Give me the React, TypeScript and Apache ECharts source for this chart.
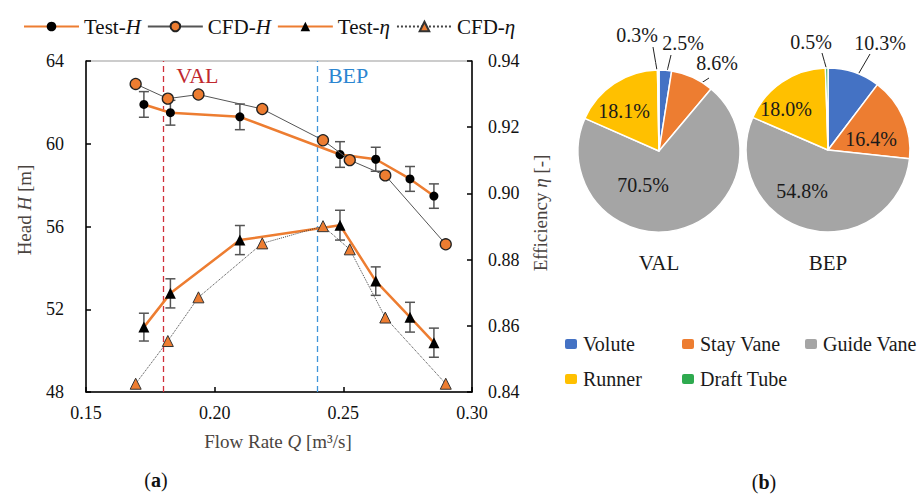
import React, { useEffect, useRef } from "react";
import * as echarts from "echarts";

// ---------- data ----------
const FLOW_TEST = [0.1725, 0.1828, 0.2098, 0.2487, 0.2626, 0.2759, 0.2852];
const HEAD_TEST = [61.9, 61.5, 61.3, 59.48, 59.25, 58.3, 57.47];
const HEAD_TEST_ERR = [0.62, 0.6, 0.62, 0.62, 0.58, 0.6, 0.59];
const EFF_TEST = [0.8596, 0.8698, 0.8859, 0.8904, 0.8735, 0.8626, 0.8549];
const EFF_TEST_ERR = [0.0042, 0.0044, 0.0044, 0.0045, 0.0043, 0.0045, 0.0044];

const FLOW_CFD = [0.1693, 0.1818, 0.1937, 0.2185, 0.2421, 0.2525, 0.2663, 0.2898];
const HEAD_CFD = [62.89, 62.18, 62.38, 61.68, 60.17, 59.21, 58.47, 55.14];
const EFF_CFD = [0.8425, 0.8554, 0.8686, 0.8849, 0.8901, 0.8831, 0.8625, 0.8425];

const VAL_Q = 0.1825;
const BEP_Q = 0.2413;

const X_TICKS = [0.15, 0.3, 0.05];
const H_TICKS = [48, 64, 4];
const EFF_TICKS = [0.84, 0.94, 0.02];

const PARTS = ["Volute", "Stay Vane", "Guide Vane", "Runner", "Draft Tube"];
const VAL_SHARE = [2.5, 8.6, 70.5, 18.1, 0.3];
const BEP_SHARE = [10.3, 16.4, 54.8, 18.0, 0.5];

// ---------- styles / positions ----------
const PART_COLORS = ["#4472C4", "#ED7D31", "#A5A5A5", "#FFC000", "#2EAA4F"];
const ORANGE = "#ED7D31";
const FONT = "Liberation Serif";

const PIE_GEOM: Record<string, { cx: number; cy: number; r: number }> = {
  VAL: { cx: 659, cy: 151, r: 81 },
  BEP: { cx: 828, cy: 150, r: 82 },
};
// label centre, and for outside labels: end of the leader line + how deep it reaches
const PIE_LABELS: Record<string, any[]> = {
  VAL: [
    { x: 683, y: 43, end: [671, 55], f: 0.85 },
    { x: 717, y: 63, end: [709, 78], f: 0.78 },
    { x: 643, y: 185 },
    { x: 624, y: 111 },
    { x: 637, y: 35, end: [653, 47], f: 0.9 },
  ],
  BEP: [
    { x: 880, y: 43, end: [870, 54], f: 0.72 },
    { x: 871, y: 139 },
    { x: 802, y: 191 },
    { x: 786, y: 109 },
    { x: 811, y: 42, end: [822, 53], f: 0.98 },
  ],
};

const LABEL_STYLE = {
  fontSize: 20,
  fontFamily: FONT,
  color: "#1a1a1a",
};

function pieSeries(name: string, shares: number[]) {
  const g = PIE_GEOM[name];
  const cfg = PIE_LABELS[name];
  return {
    type: "pie",
    name,
    center: [g.cx, g.cy],
    radius: g.r,
    startAngle: 90,
    clockwise: true,
    avoidLabelOverlap: false,
    itemStyle: { borderColor: "#fff", borderWidth: 1.5 },
    label: {
      show: true,
      position: "outside",
      formatter: (p: any) => p.value.toFixed(1) + "%",
      ...LABEL_STYLE,
    },
    labelLine: { show: true, length: 4, length2: 4, lineStyle: { color: "#222", width: 1 } },
    data: PARTS.map((n, i) => ({
      name: n,
      value: shares[i],
      itemStyle: { color: PART_COLORS[i] },
      labelLine: { show: !!cfg[i].end },
    })),
    labelLayout: (p: any) => {
      const c = cfg[p.dataIndex];
      const out: any = { x: c.x, y: c.y, align: "center", verticalAlign: "middle" };
      if (c.end) {
        let cum = 0;
        for (let k = 0; k < p.dataIndex; k++) cum += shares[k];
        const th = ((cum + shares[p.dataIndex] / 2) / 100) * Math.PI * 2;
        const ix = g.cx + g.r * c.f * Math.sin(th);
        const iy = g.cy - g.r * c.f * Math.cos(th);
        out.labelLinePoints = [
          [ix, iy],
          [(ix + c.end[0]) / 2, (iy + c.end[1]) / 2],
          [c.end[0], c.end[1]],
        ];
      }
      return out;
    },
  };
}

function errSeries(name: string, xs: number[], ys: number[], es: number[], yAxisIndex: number) {
  return {
    type: "custom",
    name,
    xAxisIndex: 0,
    yAxisIndex,
    z: 3,
    encode: { x: 0, y: 1 },
    data: xs.map((q, i) => [q, ys[i], es[i]]),
    renderItem: (_params: any, api: any) => {
      const x = api.value(0);
      const y = api.value(1);
      const e = api.value(2);
      const t = api.coord([x, y + e]);
      const b = api.coord([x, y - e]);
      const w = 5;
      const style = { stroke: "#555", lineWidth: 1.5 };
      return {
        type: "group",
        children: [
          { type: "line", shape: { x1: t[0], y1: t[1], x2: b[0], y2: b[1] }, style },
          { type: "line", shape: { x1: t[0] - w, y1: t[1], x2: t[0] + w, y2: t[1] }, style },
          { type: "line", shape: { x1: b[0] - w, y1: b[1], x2: b[0] + w, y2: b[1] }, style },
        ],
      };
    },
  };
}

const tickAxis = {
  axisLine: { show: true, onZero: false, lineStyle: { color: "#000", width: 1.5 } },
  axisTick: { show: true, inside: true, length: 5, lineStyle: { color: "#000", width: 1.5 } },
  splitLine: { show: false },
};

export default function App() {
  const ref = useRef<HTMLDivElement>(null);
  useEffect(() => {
    if (!ref.current) return;
    const chart = echarts.init(ref.current, undefined, { renderer: "svg" });
    const legendNames: Record<string, string> = {
      "Test-H": "Test-{i|H}",
      "CFD-H": "CFD-{i|H}",
      "Test-η": "Test-{i|η}",
      "CFD-η": "CFD-{i|η}",
    };
    const pieLegend = (left: number, data: string[]) => ({
      orient: "vertical",
      left,
      top: 329,
      data,
      icon: "roundRect",
      itemWidth: 14,
      itemHeight: 12,
      itemGap: 15,
      selectedMode: false,
      textStyle: { ...LABEL_STYLE },
    });
    chart.setOption({
      animation: false,
      backgroundColor: "#fff",
      textStyle: { fontFamily: FONT },
      grid: {
        left: 86,
        top: 61,
        width: 386,
        height: 331,
        show: true,
        borderColor: "#999",
        borderWidth: 1,
        backgroundColor: "transparent",
      },
      legend: [
        {
          left: 18,
          top: 11,
          data: ["Test-H", "CFD-H", "Test-η", "CFD-η"],
          itemWidth: 55,
          itemHeight: 12,
          itemGap: 6,
          selectedMode: false,
          formatter: (n: string) => legendNames[n] || n,
          textStyle: {
            fontSize: 21,
            fontFamily: FONT,
            color: "#111",
            rich: { i: { fontStyle: "italic", fontSize: 21, fontFamily: FONT, color: "#111" } },
          },
        },
        pieLegend(558, ["Volute", "Runner"]),
        pieLegend(675, ["Stay Vane", "Draft Tube"]),
        pieLegend(798, ["Guide Vane"]),
      ],
      xAxis: {
        type: "value",
        min: X_TICKS[0],
        max: X_TICKS[1],
        interval: X_TICKS[2],
        ...tickAxis,
        axisLabel: {
          formatter: (v: number) => v.toFixed(2),
          fontSize: 18,
          fontFamily: FONT,
          color: "#111",
          margin: 12,
        },
      },
      yAxis: [
        {
          type: "value",
          position: "left",
          min: H_TICKS[0],
          max: H_TICKS[1],
          interval: H_TICKS[2],
          ...tickAxis,
          axisLabel: { fontSize: 18, fontFamily: FONT, color: "#111", margin: 22 },
        },
        {
          type: "value",
          position: "right",
          min: EFF_TICKS[0],
          max: EFF_TICKS[1],
          interval: EFF_TICKS[2],
          ...tickAxis,
          axisLabel: {
            formatter: (v: number) => v.toFixed(2),
            fontSize: 18,
            fontFamily: FONT,
            color: "#111",
            margin: 16,
          },
        },
      ],
      series: [
        errSeries("errH", FLOW_TEST, HEAD_TEST, HEAD_TEST_ERR, 0),
        errSeries("errEta", FLOW_TEST, EFF_TEST, EFF_TEST_ERR, 1),
        {
          name: "Test-H",
          type: "line",
          yAxisIndex: 0,
          z: 5,
          data: FLOW_TEST.map((q, i) => [q, HEAD_TEST[i]]),
          symbol: "circle",
          symbolSize: 9,
          itemStyle: { color: "#000" },
          lineStyle: { color: ORANGE, width: 2.5 },
          markLine: {
            silent: true,
            symbol: "none",
            label: { show: false },
            data: [
              { xAxis: VAL_Q, lineStyle: { color: "#D0303A", width: 1.3, type: [6, 4] } },
              { xAxis: BEP_Q, lineStyle: { color: "#3F95DA", width: 1.3, type: [6, 4] } },
            ],
          },
        },
        {
          name: "CFD-H",
          type: "line",
          yAxisIndex: 0,
          z: 6,
          data: FLOW_CFD.map((q, i) => [q, HEAD_CFD[i]]),
          symbol: "circle",
          symbolSize: 11,
          itemStyle: { color: ORANGE, borderColor: "#222", borderWidth: 1.3 },
          lineStyle: { color: "#555", width: 1 },
        },
        {
          name: "Test-η",
          type: "line",
          yAxisIndex: 1,
          z: 5,
          data: FLOW_TEST.map((q, i) => [q, EFF_TEST[i]]),
          symbol: "triangle",
          symbolSize: 11,
          itemStyle: { color: "#000" },
          lineStyle: { color: ORANGE, width: 2.5 },
        },
        {
          name: "CFD-η",
          type: "line",
          yAxisIndex: 1,
          z: 6,
          data: FLOW_CFD.map((q, i) => [q, EFF_CFD[i]]),
          symbol: "triangle",
          symbolSize: 11,
          itemStyle: { color: ORANGE, borderColor: "#333", borderWidth: 1 },
          lineStyle: { color: "#444", width: 1, type: "dotted" },
        },
        pieSeries("VAL", VAL_SHARE),
        pieSeries("BEP", BEP_SHARE),
      ],
    });

    const valX = chart.convertToPixel({ xAxisIndex: 0 }, VAL_Q) as number;
    const bepX = chart.convertToPixel({ xAxisIndex: 0 }, BEP_Q) as number;
    const titleColor = "#4a4440";
    const txt = (x: number, y: number, text: string, extra: any = {}, rot = 0) => ({
      type: "text",
      x,
      y,
      rotation: rot,
      z: 50,
      style: {
        text,
        fontFamily: FONT,
        fontSize: 19,
        fill: titleColor,
        align: "center",
        verticalAlign: "middle",
        ...extra,
      },
    });
    const it = { i: { fontStyle: "italic", fontFamily: FONT, fontSize: 19, fill: titleColor } };
    chart.setOption({
      graphic: [
        txt(24, 210, "Head {i|H} [m]", { rich: it }, Math.PI / 2),
        txt(540, 213, "Efficiency {i|η} [-]", { rich: it }, Math.PI / 2),
        txt(278, 441, "Flow Rate {i|Q} [m³/s]", { rich: it }),
        txt(156, 480, "({b|a})", {
          fontSize: 20,
          fill: "#111",
          rich: { b: { fontWeight: "bold", fontFamily: FONT, fontSize: 20, fill: "#111" } },
        }),
        txt(764, 482, "({b|b})", {
          fontSize: 20,
          fill: "#111",
          rich: { b: { fontWeight: "bold", fontFamily: FONT, fontSize: 20, fill: "#111" } },
        }),
        txt(PIE_GEOM.VAL.cx, 263, "VAL", { fontSize: 21, fill: "#1a1a1a" }),
        txt(PIE_GEOM.BEP.cx, 263, "BEP", { fontSize: 21, fill: "#1a1a1a" }),
        txt(valX + 6.5, 75, "VAL", { fontSize: 22, fill: "#C0282D", align: "left" }),
        txt(bepX + 7, 75, "BEP", { fontSize: 22, fill: "#2B86D1", align: "left" }),
      ],
    });
    return () => chart.dispose();
  }, []);
  return (
    <div
      ref={ref}
      style={{ position: "absolute", left: 0, top: 0, width: 924, height: 496 }}
    />
  );
}
